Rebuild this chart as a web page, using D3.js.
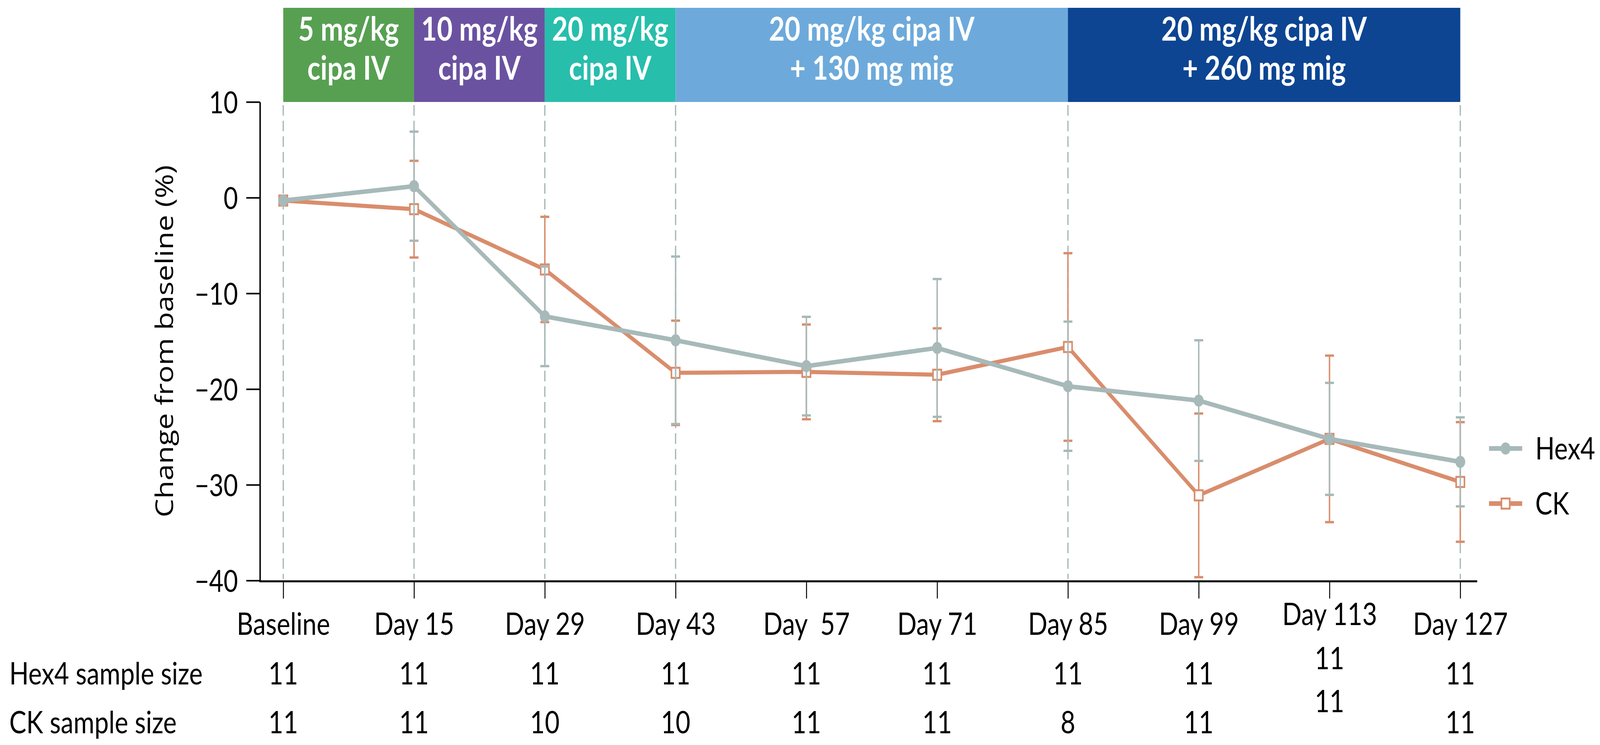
<!DOCTYPE html>
<html>
<head>
<meta charset="utf-8">
<script src="https://cdn.jsdelivr.net/npm/d3@7"></script>
<style>
  html, body { margin: 0; padding: 0; background: #ffffff; overflow: hidden; }
  svg { display: block; width: 100vw; height: 100vh; }
  text { white-space: pre; }
</style>
</head>
<body>
<svg id="chart" viewBox="0 0 5016 1907" preserveAspectRatio="none"></svg>
<script>
// ---------------- data ----------------
const categories = ["Baseline", "Day 15", "Day 29", "Day 43", "Day  57", "Day 71", "Day 85", "Day 99", "Day 113", "Day 127"];
const hex4Mean = [-0.3, 1.2, -12.4, -14.9, -17.6, -15.7, -19.7, -21.2, -25.2, -27.6];
const hex4Err  = [0, 5.7, 5.2, 8.75, 5.15, 7.2, 6.75, 6.3, 5.85, 4.65];
const ckMean   = [-0.3, -1.2, -7.5, -18.3, -18.2, -18.5, -15.6, -31.1, -25.2, -29.7];
const ckErr    = [0, 5.05, 5.5, 5.45, 4.95, 4.85, 9.8, 8.55, 8.7, 6.25];
const hex4N    = [11, 11, 11, 11, 11, 11, 11, 11, 11, 11];
const ckN      = [11, 11, 10, 10, 11, 11, 8, 11, 11, 11];
const yTicks   = [10, 0, -10, -20, -30, -40];
const phaseLine1 = ["5 mg/kg", "10 mg/kg", "20 mg/kg", "20 mg/kg cipa IV", "20 mg/kg cipa IV"];
const phaseLine2 = ["cipa IV", "cipa IV", "cipa IV", "+ 130 mg mig", "+ 260 mg mig"];
const phaseStart = ["Baseline", "Day 15", "Day 29", "Day 43", "Day 85"];
const phaseEnd   = ["Day 15", "Day 29", "Day 43", "Day 85", "Day 127"];
const seriesNames = ["Hex4", "CK"];
const rowLabels = ["Hex4 sample size", "CK sample size"];

// ---------------- styles ----------------
const phaseColors = ["#57A052", "#6B52A1", "#27BEAC", "#6DAADB", "#0D4593"];
const hexColor = "#A7B9B9";
const ckColor = "#D98D6C";
const calib = "Lato, 'Open Sans', sans-serif";

const svg = d3.select("#chart");

const x = d3.scalePoint().domain(categories).range([888, 4578]);
const y = d3.scaleLinear().domain([-40, 10]).range([1486, 261]);
const plotLeft = 815;

// header band
const phases = phaseStart.map((s, i) => ({ s, e: phaseEnd[i], l1: phaseLine1[i], l2: phaseLine2[i], c: phaseColors[i] }));
const hdr = svg.append("g");
hdr.selectAll("rect").data(phases).join("rect")
  .attr("x", d => x(d.s)).attr("y", 20)
  .attr("width", d => x(d.e) - x(d.s)).attr("height", y(10) - 20)
  .attr("fill", d => d.c);
hdr.selectAll("text.l1").data(phases).join("text").attr("class", "l1")
  .attr("x", d => (x(d.s) + x(d.e)) / 2).attr("y", 104)
  .attr("text-anchor", "middle").attr("fill", "#fff")
  .attr("font-family", calib).attr("font-weight", 700).attr("font-size", 85)
  .text(d => d.l1);
hdr.selectAll("text.l2").data(phases).join("text").attr("class", "l2")
  .attr("x", d => (x(d.s) + x(d.e)) / 2).attr("y", 204)
  .attr("text-anchor", "middle").attr("fill", "#fff")
  .attr("font-family", calib).attr("font-weight", 700).attr("font-size", 85)
  .text(d => d.l2);

// dashed phase boundary lines
const boundaries = Array.from(new Set(phaseStart.concat(phaseEnd)));
svg.append("g").selectAll("line").data(boundaries).join("line")
  .attr("x1", d => x(d)).attr("x2", d => x(d))
  .attr("y1", y(10) + 8).attr("y2", y(-40) - 4)
  .attr("stroke", hexColor).attr("stroke-width", 4)
  .attr("stroke-dasharray", "27,13");

// y axis
const yAxis = d3.axisLeft(y).tickValues(yTicks).tickSize(43).tickSizeOuter(0).tickPadding(26)
  .tickFormat(d => d < 0 ? "\u2212" + Math.abs(d) : String(d));
const yg = svg.append("g").attr("transform", `translate(${plotLeft},0)`).call(yAxis);
yg.select(".domain").attr("stroke", "#000").attr("stroke-width", 4.5);
yg.selectAll(".tick line").attr("stroke", "#000").attr("stroke-width", 4);
yg.selectAll(".tick text").attr("font-family", calib).attr("font-size", 78).attr("fill", "#000")
  .attr("dy", "0.36em");

// y title
svg.append("text")
  .attr("transform", `translate(542, ${(y(10) + y(-40)) / 2}) rotate(-90)`)
  .attr("text-anchor", "middle")
  .attr("font-family", "'Open Sans', sans-serif").attr("font-size", 76).attr("fill", "#000")
  .text("Change from baseline (%)");

// x axis
const xAxis = d3.axisBottom(x).tickSize(44).tickSizeOuter(0).tickPadding(36);
const xg = svg.append("g").attr("transform", `translate(0,${y(-40) + 2})`).call(xAxis);
xg.select(".domain").remove();
xg.append("line").attr("x1", plotLeft - 2).attr("x2", x(categories[categories.length - 1]) + 53)
  .attr("y1", 0).attr("y2", 0).attr("stroke", "#000").attr("stroke-width", 5);
xg.selectAll(".tick line").attr("stroke", "#000").attr("stroke-width", 3);
xg.selectAll(".tick text").attr("font-family", calib).attr("font-size", 80).attr("fill", "#000")
  .attr("y", d => d === "Day 113" ? 36 + 44 - 25 : 36 + 44);

// sample size rows
const rows = [hex4N, ckN];
const rowBase = [1752, 1877];
const rowLift = [39, 54];
rows.forEach((vals, r) => {
  svg.append("text").attr("x", 29).attr("y", rowBase[r])
    .attr("font-family", calib).attr("font-size", 80).attr("fill", "#000")
    .text(rowLabels[r]);
  svg.append("g").selectAll("text").data(vals.map((v, i) => ({ v, c: categories[i] }))).join("text")
    .attr("x", d => x(d.c))
    .attr("y", d => d.c === "Day 113" ? rowBase[r] - rowLift[r] : rowBase[r])
    .attr("text-anchor", "middle")
    .attr("font-family", calib).attr("font-size", 80).attr("fill", "#000")
    .text(d => d.v);
});

// series
function drawSeries(means, errs, color, lineW, marker) {
  const pts = means.map((m, i) => ({ c: categories[i], m, e: errs[i] }));
  const g = svg.append("g");
  const eb = g.append("g").attr("stroke", color);
  pts.filter(d => d.e > 0).forEach(d => {
    eb.append("line").attr("x1", x(d.c)).attr("x2", x(d.c))
      .attr("y1", y(d.m + d.e)).attr("y2", y(d.m - d.e)).attr("stroke-width", 4.5);
    [d.m + d.e, d.m - d.e].forEach(v => {
      eb.append("line").attr("x1", x(d.c) - 14).attr("x2", x(d.c) + 14)
        .attr("y1", y(v)).attr("y2", y(v)).attr("stroke-width", 6);
    });
  });
  g.append("path").datum(pts)
    .attr("d", d3.line().x(d => x(d.c)).y(d => y(d.m)))
    .attr("fill", "none").attr("stroke", color).attr("stroke-width", lineW)
    .attr("stroke-linejoin", "round");
  if (marker === "circle") {
    g.selectAll("circle").data(pts).join("circle")
      .attr("cx", d => x(d.c)).attr("cy", d => y(d.m)).attr("r", 15.5)
      .attr("fill", color);
  } else {
    g.selectAll("rect").data(pts).join("rect")
      .attr("x", d => x(d.c) - 13).attr("y", d => y(d.m) - 13)
      .attr("width", 26).attr("height", 26)
      .attr("fill", "#fff").attr("stroke", color).attr("stroke-width", 5);
  }
}
drawSeries(ckMean, ckErr, ckColor, 10.5, "square");
drawSeries(hex4Mean, hex4Err, hexColor, 11.5, "circle");

// legend
const legY = [1148, 1289];
const legColors = [hexColor, ckColor];
seriesNames.forEach((name, i) => {
  const lg = svg.append("g");
  lg.append("line").attr("x1", 4668).attr("x2", 4772).attr("y1", legY[i]).attr("y2", legY[i])
    .attr("stroke", legColors[i]).attr("stroke-width", 12);
  if (i === 0) {
    lg.append("circle").attr("cx", 4720).attr("cy", legY[i]).attr("r", 15.5).attr("fill", legColors[i]);
  } else {
    lg.append("rect").attr("x", 4720 - 13).attr("y", legY[i] - 13).attr("width", 26).attr("height", 26)
      .attr("fill", "#fff").attr("stroke", legColors[i]).attr("stroke-width", 5);
  }
  lg.append("text").attr("x", 4813).attr("y", legY[i] + 28)
    .attr("font-family", calib).attr("font-size", 80).attr("fill", "#000")
    .text(name);
});
</script>
</body>
</html>
